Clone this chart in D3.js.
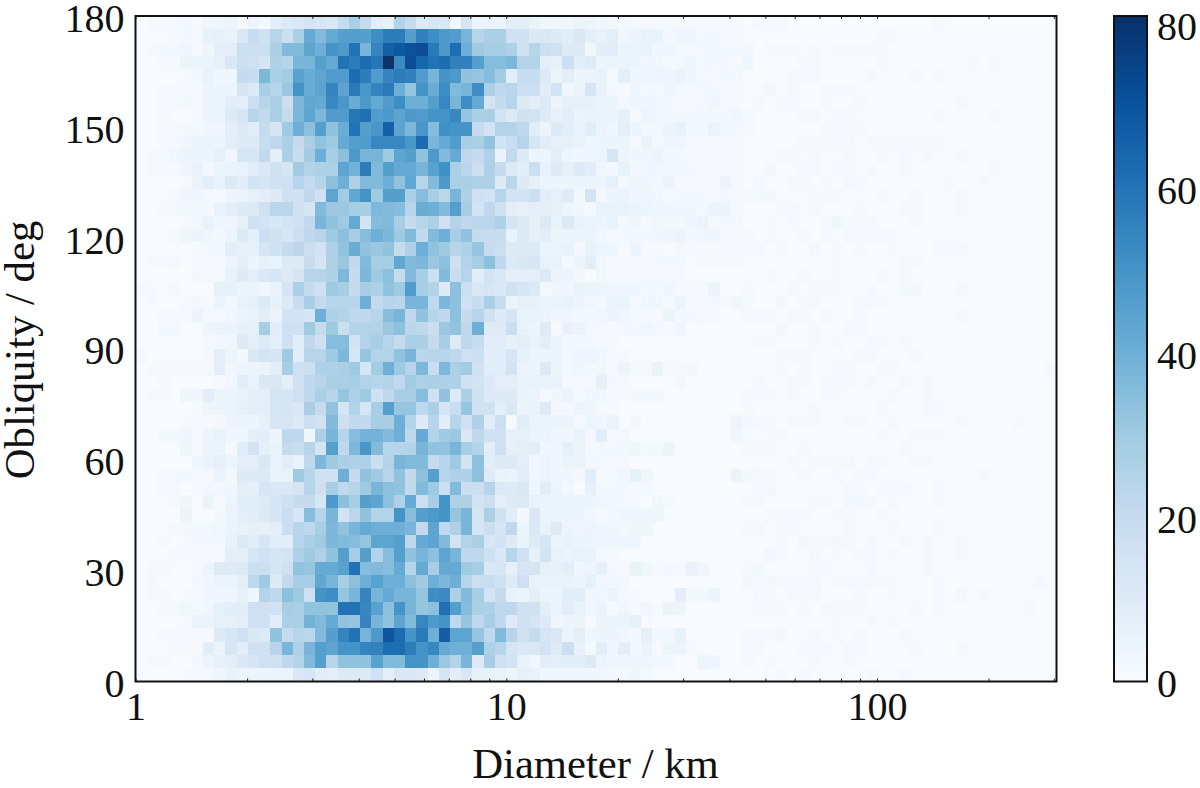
<!DOCTYPE html>
<html><head><meta charset="utf-8">
<script src="https://cdn.jsdelivr.net/npm/d3@7"></script>
<style>html,body{margin:0;padding:0;background:#fff}svg{display:block}text{font-family:"Liberation Serif",serif;fill:#111}</style>
</head><body><svg id="c" width="1200" height="788"></svg>
<script>
// Counts: rows run from the top (176.4-180 deg) down, columns from 1 km upward.
// Trailing zero cells on the right are left out of a row.
const countRows = [
[0,1,1,1,2,1,3,3,4,1,4,2,8,11,12,14,13,12,20,27,20,9,7,25,20,11,13,12,3,14,5,5,5,8,8,6,3,3,3,5,4,3,2,2,1,1,1,1,1,1,1,1,1,1,0,1,1,1,0,0,0,0,0,0,0,0,0,0,0,0,0,1],
[0,0,0,1,2,1,6,7,6,12,19,16,24,18,27,42,36,42,46,46,46,52,57,57,46,56,52,48,47,38,24,27,27,17,16,11,12,10,9,12,8,6,8,3,4,6,6,2,3,3,2,2,1,1,0,0,0,0,0,0,0,0,0,0,0,0,1,1],
[0,1,2,2,3,1,4,8,8,18,18,18,27,36,36,44,40,50,48,60,38,55,66,68,71,72,58,48,62,40,30,28,28,26,16,24,18,16,10,10,3,8,9,5,5,6,3,3,2,1,2,2,2,2,2,0,1,1,1,0,1,0,1,1,1,1,1],
[0,0,1,1,4,4,5,7,12,18,16,14,26,24,38,38,46,42,60,57,62,59,81,53,72,64,60,62,56,56,46,35,35,37,25,25,8,7,18,9,10,4,4,4,4,3,3,1,2,3,2,2,2,1,3,0,0,0,0,1,1,0,0,0,0,0,1,0,0,0,0,0,0,0,1,0,1],
[0,0,0,0,1,2,6,3,3,20,19,37,27,29,45,41,44,47,47,62,57,47,55,57,56,47,38,50,48,33,32,35,29,9,19,19,10,5,8,4,5,6,1,8,3,3,4,3,5,3,2,1,2,2,0,0,0,0,1,1,1,0,0,0,0,1,0,0,0,1,0,1],
[0,0,1,1,1,1,5,4,4,14,11,28,24,31,50,41,44,55,44,58,49,55,58,40,32,50,41,52,36,38,52,27,22,23,18,18,9,15,3,5,14,6,2,1,3,2,2,3,2,1,2,2,1,1,0,0,2,0,1,0,0,1,1,1],
[0,0,1,1,2,1,4,5,9,8,18,24,27,18,37,43,42,54,49,41,48,42,47,52,40,40,46,54,38,52,42,15,20,24,11,8,11,4,7,7,7,5,4,2,3,3,3,2,1,1,2,3,1,1,0,1,0,1,1,0,0,1,0,0,1,0,0,0,0,0,0,0,0,1],
[0,0,1,0,0,1,5,5,10,13,24,21,27,20,37,44,37,47,47,59,61,47,48,44,48,47,50,50,54,32,27,27,15,11,16,15,10,7,9,5,6,5,5,7,1,4,3,2,2,2,2,2,2,3,1,0,0,0,0,1,1,0,1,1,0,0,0,0,0,0,0,1,0,0,0,0,1],
[0,0,1,1,2,2,3,3,8,11,9,20,14,30,40,34,46,33,41,60,46,49,66,44,37,49,35,51,50,50,20,15,25,25,22,9,5,11,9,6,9,5,3,8,4,2,2,4,6,2,2,5,2,2,1,0,0,0,0,0,0,1,1,1,1],
[0,0,1,2,3,4,5,4,9,10,10,19,22,27,20,27,33,30,42,46,47,54,54,54,49,63,38,42,47,28,27,33,15,19,24,14,9,7,7,6,3,4,4,4,1,5,2,3,3,1,1,1,1,1,0,0,0,0,0,1,1,1,1,2,0,1,1,1,1,1,1,1],
[0,1,1,3,4,4,4,7,3,13,13,21,8,27,19,29,40,28,34,48,38,38,30,44,46,33,48,36,42,22,20,26,6,21,10,4,5,8,4,3,3,4,13,4,3,3,5,2,2,1,1,1,1,1,0,0,0,1,1,0,1,0,0,1,0,0,1,0,1,0,1,0,0,1],
[0,1,1,1,3,6,2,4,5,6,9,12,16,14,29,25,26,26,44,39,57,36,46,42,42,38,45,51,27,23,18,26,20,11,9,18,6,10,7,10,9,3,2,6,2,3,3,2,2,2,1,1,1,1,0,0,2,0,0,1,1,0,1,1,0,1,0,0,1,0,0,0,0,0,0,0,1],
[0,0,0,0,1,5,9,6,11,9,15,13,16,17,24,20,24,34,40,26,36,36,40,33,43,24,36,48,27,27,26,26,10,23,10,7,4,4,4,4,5,4,7,2,3,3,2,4,1,1,1,1,4,1,0,2,0,0,1,1,0,1,0,2,1,0,0,0,0,0,0,0,1,0,0,1],
[0,0,0,1,3,3,2,1,4,5,7,8,10,16,17,22,17,44,29,43,50,30,46,46,27,35,28,23,38,26,17,15,24,15,15,18,9,7,10,2,15,2,4,5,3,3,3,1,2,2,2,1,2,1,1,2,2,0,0,0,1,1,1,0,0,0,1,0,0,1,0,0,0,1],
[0,0,1,2,2,2,2,6,8,10,11,16,23,23,16,14,36,31,31,28,28,37,36,35,24,41,40,36,46,28,15,22,16,8,7,8,8,7,4,3,2,6,6,6,5,4,3,3,3,3,2,4,4,1,0,0,0,1,1,0,1,0,0,0,1,0,0,0,1,1,0,0,0,1],
[0,0,0,0,1,2,6,3,3,7,17,15,13,15,17,21,38,33,30,42,15,35,36,28,20,24,26,17,25,22,23,23,26,14,11,7,11,6,11,6,5,4,6,2,3,1,3,2,2,3,5,1,2,2,0,0,1,0,1,0,0,1,3,1,1,1,0,0,0,1],
[0,0,0,1,3,4,3,2,5,11,8,18,16,13,18,22,24,30,34,28,35,40,37,30,36,21,36,40,28,33,20,19,19,6,11,7,9,5,4,5,5,3,1,2,2,2,3,3,5,2,3,3,1,1,1,0,1,0,0,1,0,1,0,1,1,1,1,1],
[0,0,0,0,0,1,2,2,9,7,7,14,16,20,23,18,15,26,33,41,33,31,33,20,26,40,33,30,24,26,32,20,18,10,10,11,5,5,6,2,6,4,3,1,4,1,1,0,2,1,1,1,1,1,1,1,0,1,0,0,2,0,1,0,1,0,0,1,0,0,0,1,1,1],
[0,1,1,2,0,1,1,1,4,8,5,7,6,11,10,19,14,26,31,21,36,28,28,43,36,37,31,34,17,25,28,34,22,11,12,13,6,6,2,4,8,3,1,1,1,1,2,2,2,0,1,1,1,1,0,0,0,0,0,0,0,0,1,0,0,0,0,0,1,1],
[0,0,0,0,0,2,1,1,6,10,8,12,13,10,14,24,24,26,37,20,37,30,34,20,36,28,18,36,19,24,9,15,12,8,8,8,11,5,4,2,0,3,1,1,1,2,1,1,1,0,0,0,0,0,0,0,1,0,0,1,0,0,1,0,0,0,1,0,1],
[1,1,0,1,0,0,0,7,7,5,5,3,6,14,27,20,17,30,28,20,28,26,33,30,47,28,25,10,34,18,12,14,12,16,13,11,2,3,3,6,5,4,3,3,3,2,2,3,1,1,1,4,0,0,1,0,0,0,1,0,1,1,1,0,0,1,0,0,2,2,0,0,0,1],
[0,1,0,0,1,2,1,4,2,6,7,11,7,11,19,28,21,24,24,24,40,21,24,23,38,38,22,37,34,16,19,27,19,5,7,7,5,5,6,4,3,2,5,5,1,3,3,1,4,1,1,2,1,3,1,0,0,2,0,1,1,0,0,0,1,1,1],
[0,0,1,1,1,4,1,1,3,5,6,8,5,15,15,14,40,26,25,22,22,24,35,38,22,33,24,22,34,20,24,16,10,14,6,6,5,3,3,2,2,3,4,3,1,1,1,4,2,2,1,1,0,0,1,1,1,0,1,1,0,1,0,0,1,0,0,0,0,0,0,0,0,1],
[0,0,2,2,0,0,4,5,5,7,7,28,9,17,17,30,20,30,18,25,25,25,31,34,23,22,18,31,33,22,40,10,10,18,6,4,10,1,6,5,2,1,1,2,2,3,2,1,3,0,0,0,0,0,0,0,0,2,0,0,1,0,0,1,1],
[0,0,0,0,0,0,1,2,3,10,8,11,8,17,9,22,17,35,35,15,25,28,24,20,27,27,20,28,10,22,19,9,9,7,8,6,8,4,2,2,2,1,1,0,0,0,0,0,0,0,0,0,0,0,0,1,1,0,0,0,1,0,1,0,0,1,1,0,1],
[1,0,0,0,0,0,1,8,4,2,12,15,14,30,9,24,24,30,37,13,32,25,25,33,38,23,24,24,22,17,18,8,9,14,7,4,4,5,2,3,4,3,1,1,0,0,0,0,0,0,0,0,0,0,0,0,0,1,1,1,0,0,0,0,1,1,0,0,0,1],
[0,1,1,1,1,1,2,8,3,4,4,5,8,28,17,18,26,26,27,30,14,29,40,30,24,37,19,37,27,29,16,9,9,15,5,4,11,4,2,3,2,3,1,4,1,1,5,1,1,2,0,0,0,0,0,0,0,1,0,1,0,0,1,1,0,0,1,1,0,0,0,0,0,0,0,0,0,0,0,0,0,1],
[0,0,1,0,0,0,0,1,3,9,6,12,12,8,16,22,24,27,27,28,25,24,25,22,29,26,27,26,26,17,15,11,8,8,6,6,6,6,1,1,1,7,2,1,0,0,0,0,2,0,0,0,0,0,0,1,0,0,1,1,0,1,1,1,0,1,0,0,1,0,1],
[0,1,1,0,3,3,9,5,5,6,8,8,14,14,17,22,27,24,32,26,30,16,22,28,28,35,16,33,11,27,16,11,10,10,6,5,2,3,5,1,3,3,1,1,2,2,2,0,0,0,0,0,0,0,1,1,1,0,1,0,0,1,1,0,0,0,0,1,0,0,1],
[0,0,0,0,0,1,4,4,5,7,8,8,13,14,12,27,20,33,14,25,14,28,46,32,32,22,27,13,19,32,16,16,8,12,5,6,11,2,2,4,3,1,1,0,0,0,0,0,0,0,0,0,0,0,1,0,0,0,0,0,1,0,0,0,0,0,1,0,0,0,1,1],
[0,0,0,0,1,1,1,2,4,4,4,7,13,13,11,18,16,36,17,21,21,28,28,40,25,10,24,9,24,16,26,9,18,1,9,5,5,4,4,1,4,3,5,0,2,0,0,0,0,0,0,0,0,4,2,1,1,0,1,1,1,0,0,1,1,0,0,1,0,0,0,0,0,1,0,0,0,0,1],
[0,0,2,2,3,1,4,6,3,3,8,9,4,22,22,3,27,38,24,35,39,39,36,40,22,42,25,30,31,12,22,16,17,7,7,5,5,3,3,6,2,9,1,2,0,0,0,0,0,0,0,0,0,3,0,0,1,1,0,0,0,0,0,0,0,0,1,0,0,1,1,1],
[0,0,0,0,3,1,5,5,1,9,15,7,6,20,19,24,14,46,22,37,49,36,24,24,25,38,33,33,38,28,25,9,17,7,8,9,3,3,7,5,1,2,2,2,3,2,2,4,0,0,0,0,0,0,1,1,1,0,0,1,0,0,0,0,0,0,0,0,1],
[0,0,0,0,0,3,5,7,5,8,8,12,6,9,6,22,37,30,27,26,26,18,25,38,36,36,20,24,30,15,34,9,11,11,8,3,5,3,5,5,2,2,1,1,0,0,0,0,0,0,0,0,0,0,0,0,0,0,1,0,1,1,1,2,0,1,1,0,0,1,1],
[0,0,1,2,2,1,1,5,2,10,10,11,6,6,30,24,16,17,40,20,33,30,24,33,21,34,46,24,26,26,34,10,6,5,9,3,5,3,3,2,9,1,1,3,7,3,0,0,0,0,0,0,0,5,2,1,1,0,0,1,0,0,1,0,1,1,0,0,0,0,0,0,0,0,0,1],
[0,0,1,1,0,1,2,2,3,8,7,13,12,12,14,24,17,28,22,24,30,38,34,33,21,36,30,18,36,18,18,24,11,10,12,3,9,4,2,0,7,2,2,2,1,2,0,0,0,0,0,0,0,0,0,1,2,0,0,0,0,0,0,1,1,0,1,1,1,0,0,1],
[0,0,0,1,3,0,5,1,4,9,9,10,14,17,20,20,13,48,34,28,46,44,34,26,42,18,28,50,26,26,15,18,8,10,11,6,5,5,5,4,4,3,2,2,1,0,3,1,0,0,0,0,0,0,1,1,0,0,0,0,1,1,0,2,2,1,0,1,0,0,0,1],
[0,0,0,0,4,0,0,2,5,8,9,11,14,19,13,35,24,38,15,23,33,25,25,50,35,46,48,50,32,38,14,27,16,9,2,12,5,5,4,4,3,1,2,3,3,3,3,0,0,0,0,0,0,0,0,0,1,1,1,1,0,0,1,1,0,0,1],
[0,0,0,1,2,2,2,3,5,6,7,7,8,18,24,22,28,37,33,38,42,40,40,40,38,21,44,22,26,38,14,18,14,22,4,12,6,10,4,3,4,3,3,2,3,3,0,0,0,0,0,0,0,0,1,1,0,1,1,0,0,0,0,1,0,0,0,1,0,0,0,1],
[0,0,1,0,1,2,2,2,6,11,9,13,9,9,24,27,30,37,36,35,32,44,44,46,22,42,44,36,15,25,27,13,15,10,6,10,13,5,6,5,4,3,3,3,3,0,0,0,0,0,0,0,0,0,0,0,0,1,0,2,1,1,2,1,0,1,0,0,1,0,1,0,0,1],
[0,0,0,1,1,1,1,1,8,8,13,16,14,15,26,30,26,33,46,28,46,25,35,46,33,38,34,44,38,22,22,17,12,24,17,7,15,6,5,6,6,2,1,0,0,0,0,0,0,0,0,0,0,0,0,0,2,1,0,0,2,0,1,0,1,1,0,1,0,0,1,0,0,1],
[0,1,1,0,0,1,4,10,10,11,18,18,14,17,33,32,42,42,45,60,35,36,35,42,24,42,28,42,42,30,28,12,13,7,14,14,7,7,9,3,4,7,2,1,6,3,1,2,1,6,3,0,0,0,1,2,0,0,0,0,1,1,0,0,0,1,0,0,0,0,1],
[0,1,0,0,0,2,3,5,5,8,22,30,10,21,28,28,43,38,28,34,40,45,40,40,34,30,40,37,40,24,18,19,16,10,17,6,6,6,6,5,7,3,2,2,0,0,0,0,0,0,0,0,0,0,2,1,2,1,1,1,2,0,1,1,1,1,1,1,0,0,0,1,0,0,0,0,0,0,0,0,1],
[0,1,1,0,1,1,3,3,3,7,3,25,22,34,30,17,50,52,32,38,55,38,42,38,38,32,52,53,26,36,28,15,20,6,5,8,4,4,9,9,3,3,4,2,1,0,0,0,8,2,2,4,0,0,0,2,1,0,1,1,1,0,0,0,1,0,0,1,0,0,0,1,0,2,0,1],
[0,0,1,1,3,2,3,7,9,9,17,17,16,28,27,33,33,33,60,60,54,45,34,50,38,32,34,61,46,35,27,26,22,22,16,16,8,5,9,6,3,5,1,3,1,3,1,5,4,0,0,0,0,0,0,1,1,1,0,1,0,2,1,1,1,0,0,0,0,1,0,1,0,0,0,0,0,0,0,1],
[0,0,0,0,1,5,5,7,7,8,17,17,9,27,27,39,36,42,33,32,55,38,33,44,36,54,48,50,22,32,22,28,22,10,16,14,10,3,4,4,1,4,4,5,7,1,0,0,0,0,0,0,0,0,0,0,0,0,0,0,0,0,1,0,0,1,0,1],
[0,0,1,1,1,1,1,10,13,17,12,11,33,20,24,23,36,46,55,60,38,48,70,63,50,58,40,67,44,44,32,22,36,24,16,20,14,12,5,8,3,4,4,3,2,7,2,2,6,0,0,0,0,0,1,1,1,2,0,0,1,0,1,0,1,0,0,0,1],
[0,0,0,2,1,1,9,5,13,9,16,16,24,38,26,38,46,44,50,50,55,56,62,62,57,50,54,42,40,40,46,26,24,14,12,12,15,10,18,6,2,9,3,8,2,5,1,4,4,1,0,0,0,0,1,1,0,0,0,1,1,2,0,1,1,0,0,0,0,1,0,0,0,1],
[0,1,1,0,0,2,4,7,8,12,14,16,16,22,25,36,46,24,33,33,33,45,36,36,50,50,40,31,25,38,10,28,17,15,6,3,9,8,9,9,11,5,3,3,3,3,2,2,0,0,4,3,0,0,1,0,1,0,0,0,1,0,0,1],
[0,0,0,0,1,1,2,3,6,4,4,4,5,5,12,13,9,8,11,11,11,17,8,12,12,10,5,14,8,12,7,6,6,4,7,6,3,3,3,3,3,3,2,2,3,2,0,0,0,0,0,0,0,0,0,0,0,1,0,1,0,0,0,0,0,1,0,0,1]
];
const yTicks = [0,30,60,90,120,150,180];
const xMajor = [1,10,100];
const xMinor = [2,3,4,5,6,7,8,9,20,30,40,50,60,70,80,90,200,300];
const barTicks = [0,20,40,60,80];
const blues = ["#f7fbff","#deebf7","#c6dbef","#9ecae1","#6baed6","#4292c6","#2171b5","#08519c","#08306b"];
const xTitle = "Diameter / km", yTitle = "Obliquity / deg";
const nCols = 82, nRows = countRows.length, vMax = 81, xTop = 305;

const svg = d3.select("#c");
const fs = 40, titleFs = 42.7, L = 135.5, R = 1056.5, T = 16, B = 681.5, BL = 1114, BR = 1147;
const x = d3.scaleLog().domain([1,xTop]).range([L,R]);
const y = d3.scaleLinear().domain([0,180]).range([B,T]);
const color = d3.scaleLinear().domain(blues.map((_,i)=>i/8*vMax)).range(blues).interpolate(d3.interpolateRgb);
const edge = i => Math.pow(xTop, i/nCols);

const defsRoot = svg.append("defs");
defsRoot.append("filter").attr("id","soft").attr("x","-1%").attr("y","-1%").attr("width","102%").attr("height","102%")
  .append("feGaussianBlur").attr("stdDeviation",0.55);
defsRoot.append("clipPath").attr("id","plot").append("rect").attr("x",L).attr("y",T).attr("width",R-L).attr("height",B-T);

const plot = svg.append("g").attr("clip-path","url(#plot)");
plot.append("rect").attr("x",L-4).attr("y",T-4).attr("width",R-L+8).attr("height",B-T+8).attr("fill",color(0));
const cells = [];
countRows.forEach((row,r)=>row.forEach((v,c)=>{ if(v>0) cells.push({r,c,v}); }));
plot.append("g").attr("filter","url(#soft)").attr("shape-rendering","crispEdges").selectAll("rect").data(cells).join("rect")
 .attr("x",d=>x(edge(d.c)))
 .attr("width",d=>x(edge(d.c+1))-x(edge(d.c))+0.5)
 .attr("y",d=>y(180-d.r*180/nRows))
 .attr("height",d=>y(180-(d.r+1)*180/nRows)-y(180-d.r*180/nRows)+0.5)
 .attr("fill",d=>color(d.v));

const tickStyle = g => { g.select(".domain").remove(); g.selectAll("line").attr("stroke","#222").attr("stroke-width",1);
  g.selectAll("text").style("font-size",fs+"px").attr("fill","#111").style("font-family","'Liberation Serif',serif"); };
const allX = xMajor.concat(xMinor);
svg.append("g").attr("transform",`translate(0,${B})`)
 .call(d3.axisBottom(x).tickValues(allX).tickFormat(d=>xMajor.includes(d)?String(d):"").tickSizeInner(-3).tickSizeOuter(0).tickPadding(10))
 .call(tickStyle);
svg.append("g").attr("transform",`translate(0,${T})`)
 .call(d3.axisTop(x).tickValues(allX).tickFormat("").tickSizeInner(-3).tickSizeOuter(0))
 .call(tickStyle);
const yAxis = svg.append("g").attr("transform",`translate(${L},0)`)
 .call(d3.axisLeft(y).tickValues(yTicks).tickSize(0).tickPadding(11)).call(tickStyle);
yAxis.selectAll("text").attr("dy",".38em");
svg.append("rect").attr("x",L).attr("y",T).attr("width",R-L).attr("height",B-T).attr("fill","none").attr("stroke","#111").attr("stroke-width",2);

// colour bar
const by = d3.scaleLinear().domain([0,vMax]).range([B,T]);
const grad = defsRoot.append("linearGradient").attr("id","bar").attr("x1",0).attr("x2",0).attr("y1",1).attr("y2",0);
blues.forEach((b,i)=>grad.append("stop").attr("offset",i/8).attr("stop-color",b));
svg.append("rect").attr("x",BL).attr("y",T).attr("width",BR-BL).attr("height",B-T).attr("fill","url(#bar)").attr("stroke","#111").attr("stroke-width",2);
const barAxis = svg.append("g").attr("transform",`translate(${BR},0)`)
 .call(d3.axisRight(by).tickValues(barTicks).tickSize(0).tickPadding(10)).call(tickStyle);
barAxis.selectAll("text").attr("dy",".38em");

svg.append("text").attr("x",595.5).attr("y",778).attr("text-anchor","middle").style("font-size",titleFs+"px").text(xTitle);
svg.append("text").attr("transform","translate(34,350) rotate(-90)").attr("text-anchor","middle").style("font-size",titleFs+"px").text(yTitle);
</script></body></html>
